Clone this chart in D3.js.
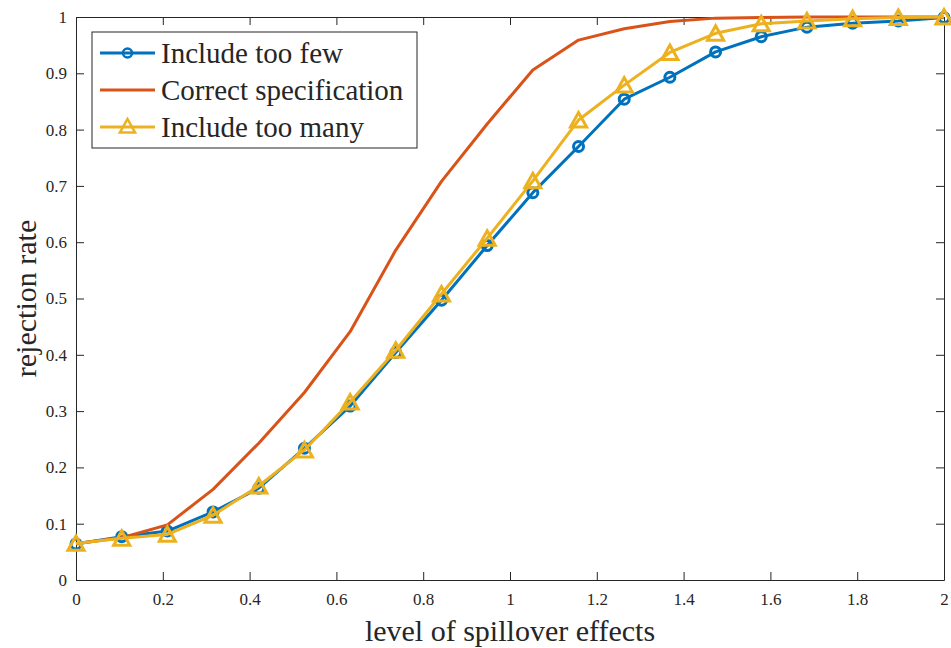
<!DOCTYPE html>
<html>
<head>
<meta charset="utf-8">
<script src="https://cdn.jsdelivr.net/npm/d3@7"></script>
<style>
  body { margin: 0; background: #fff; }
  text { font-family: "Liberation Serif", "Times New Roman", serif; fill: #262626; }
</style>
</head>
<body>
<div id="container"></div>
<script>
/* CONSTANTS AND GLOBALS */
const width = 951,
  height = 648,
  margin = { top: 17, bottom: 68, left: 76, right: 7 };
const serif = "'Liberation Serif', 'Times New Roman', serif";

/* DATA */
const spillover = [0, 0.1053, 0.2105, 0.3158, 0.4211, 0.5263, 0.6316, 0.7368, 0.8421, 0.9474,
  1.0526, 1.1579, 1.2632, 1.3684, 1.4737, 1.5789, 1.6842, 1.7895, 1.8947, 2];
const tooFew = [0.064, 0.077, 0.087, 0.121, 0.163, 0.234, 0.309, 0.404, 0.497, 0.594,
  0.688, 0.770, 0.854, 0.893, 0.938, 0.965, 0.982, 0.989, 0.993, 0.999];
const correct = [0.065, 0.075, 0.098, 0.161, 0.243, 0.333, 0.441, 0.586, 0.708, 0.810,
  0.906, 0.959, 0.979, 0.992, 0.998, 0.999, 1.0, 1.0, 1.0, 1.0];
const tooMany = [0.065, 0.074, 0.081, 0.115, 0.167, 0.231, 0.316, 0.408, 0.508, 0.607,
  0.709, 0.817, 0.879, 0.937, 0.971, 0.988, 0.993, 0.997, 0.999, 1.0];
const xTicks = [0, 0.2, 0.4, 0.6, 0.8, 1, 1.2, 1.4, 1.6, 1.8, 2];
const yTicks = [0, 0.1, 0.2, 0.3, 0.4, 0.5, 0.6, 0.7, 0.8, 0.9, 1];
const seriesNames = ["Include too few", "Correct specification", "Include too many"];
const seriesColors = ["#0072BD", "#D95319", "#EDB120"];
const seriesMarkers = ["circle", "none", "triangle"];
const seriesValues = [tooFew, correct, tooMany];

/* SCALES */
const xScale = d3.scaleLinear().domain([0, 2]).range([margin.left, width - margin.right]);
const yScale = d3.scaleLinear().domain([0, 1]).range([height - margin.bottom, margin.top]);

const svg = d3.select("#container").append("svg")
  .attr("width", width)
  .attr("height", height);

/* AXES (MATLAB style box, ticks inward) */
const axisColor = "#262626";
const tickLen = 8;

const xAxis = svg.append("g")
  .attr("transform", `translate(0, ${yScale(0)})`)
  .call(d3.axisBottom(xScale).tickValues(xTicks).tickSizeInner(-tickLen).tickSizeOuter(0)
    .tickPadding(16).tickFormat(d => d3.format("")(d)));
const xAxisTop = svg.append("g")
  .attr("transform", `translate(0, ${yScale(1)})`)
  .call(d3.axisTop(xScale).tickValues(xTicks).tickSizeInner(-tickLen).tickSizeOuter(0).tickFormat(""));
const yAxis = svg.append("g")
  .attr("transform", `translate(${xScale(0)}, 0)`)
  .call(d3.axisLeft(yScale).tickValues(yTicks).tickSizeInner(-tickLen).tickSizeOuter(0)
    .tickPadding(9).tickFormat(d => d3.format("")(d)));
const yAxisRight = svg.append("g")
  .attr("transform", `translate(${xScale(2)}, 0)`)
  .call(d3.axisRight(yScale).tickValues(yTicks).tickSizeInner(-tickLen).tickSizeOuter(0).tickFormat(""));

[xAxis, xAxisTop, yAxis, yAxisRight].forEach(g => {
  g.attr("font-family", serif);
  g.select(".domain").attr("stroke", axisColor).attr("stroke-width", 1);
  g.selectAll(".tick line").attr("stroke", axisColor).attr("stroke-width", 1);
  g.selectAll(".tick text").style("font-size", "17px").style("font-family", serif).attr("fill", axisColor);
});
xAxis.selectAll(".tick text").attr("dy", "0.5em");

/* AXIS LABELS */
svg.append("text")
  .attr("x", (xScale(0) + xScale(2)) / 2)
  .attr("y", 641)
  .attr("text-anchor", "middle")
  .style("font-size", "30px")
  .style("font-family", serif)
  .text("level of spillover effects");

svg.append("text")
  .attr("transform", `translate(36, ${(yScale(0) + yScale(1)) / 2}) rotate(-90)`)
  .attr("text-anchor", "middle")
  .style("font-size", "30px")
  .style("font-family", serif)
  .text("rejection rate");

/* LINES + MARKERS */
const line = d3.line()
  .x((d, i) => xScale(spillover[i]))
  .y(d => yScale(d));

const triangle = s => `M0,${-s}L${s * 0.95},${s * 0.7}L${-s * 0.95},${s * 0.7}Z`;

seriesValues.forEach((vals, k) => {
  const g = svg.append("g");
  g.append("path")
    .datum(vals)
    .attr("d", line)
    .attr("fill", "none")
    .attr("stroke", seriesColors[k])
    .attr("stroke-width", 3)
    .attr("stroke-linejoin", "round");

  if (seriesMarkers[k] === "circle") {
    g.selectAll("circle")
      .data(vals)
      .join("circle")
      .attr("cx", (d, i) => xScale(spillover[i]))
      .attr("cy", d => yScale(d))
      .attr("r", 5)
      .attr("fill", "none")
      .attr("stroke", seriesColors[k])
      .attr("stroke-width", 3);
  } else if (seriesMarkers[k] === "triangle") {
    g.selectAll("path.mk")
      .data(vals)
      .join("path")
      .attr("class", "mk")
      .attr("transform", (d, i) => `translate(${xScale(spillover[i])}, ${yScale(d) + 1})`)
      .attr("d", triangle(8.5))
      .attr("fill", "none")
      .attr("stroke", seriesColors[k])
      .attr("stroke-width", 3)
      .attr("stroke-linejoin", "miter");
  }
});

/* LEGEND */
const legend = svg.append("g");
legend.append("rect")
  .attr("x", 92).attr("y", 32)
  .attr("width", 325).attr("height", 116)
  .attr("fill", "#fff")
  .attr("stroke", axisColor)
  .attr("stroke-width", 1);

seriesNames.forEach((name, k) => {
  const y = 53 + k * 37;
  legend.append("line")
    .attr("x1", 100).attr("x2", 155)
    .attr("y1", y).attr("y2", y)
    .attr("stroke", seriesColors[k])
    .attr("stroke-width", 3);
  if (seriesMarkers[k] === "circle") {
    legend.append("circle")
      .attr("cx", 127.5).attr("cy", y).attr("r", 4.5)
      .attr("fill", "none").attr("stroke", seriesColors[k]).attr("stroke-width", 2.5);
  } else if (seriesMarkers[k] === "triangle") {
    legend.append("path")
      .attr("transform", `translate(127.5, ${y})`)
      .attr("d", triangle(8))
      .attr("fill", "none").attr("stroke", seriesColors[k]).attr("stroke-width", 2.5);
  }
  legend.append("text")
    .attr("x", 161).attr("y", y + 10)
    .style("font-size", "29px")
    .style("font-family", serif)
    .attr("fill", "#000")
    .text(name);
});
</script>
</body>
</html>
